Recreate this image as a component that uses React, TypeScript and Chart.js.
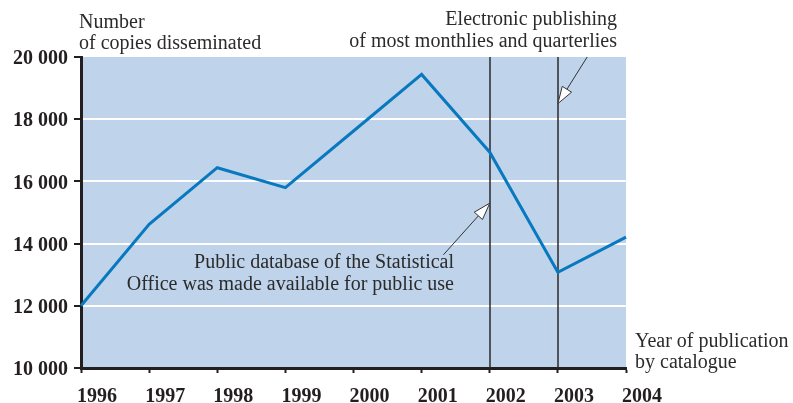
import React, { useEffect, useRef } from "react";
import { Chart, registerables } from "chart.js";

Chart.register(...registerables);

const years = ["1996", "1997", "1998", "1999", "2000", "2001", "2002", "2003", "2004"];
const copies = [12000, 14620, 16440, 15800, 17620, 19440, 16940, 13080, 14210];
const yMin = 10000;
const yMax = 20000;
const yStep = 2000;
const eventYears = ["2002", "2003"];
const yAxisTitle = ["Number", "of copies disseminated"];
const xAxisTitle = ["Year of publication", "by catalogue"];
const note1 = ["Public database of the Statistical", "Office was made available for public use"];
const note2 = ["Electronic publishing", "of most monthlies and quarterlies"];
// arrow anchors in data space: [xIndex, value]
const note1Arrow = { tail: [5.32, 13640], tip: [6, 15300] };
const note2Arrow = { tail: [7.43, 20000], tip: [7, 18500] };

const W = 793;
const H = 403;
const SERIF = '"Liberation Serif", "Times New Roman", serif';
const TEXT = "#2b2b2b";
const INK = "#231f20";

const fmt = (v: number) => String(v).replace(/\B(?=(\d{3})+(?!\d))/g, " ");

function drawArrow(ctx: CanvasRenderingContext2D, x1: number, y1: number, x2: number, y2: number) {
  const dx = x2 - x1;
  const dy = y2 - y1;
  const len = Math.hypot(dx, dy);
  const ux = dx / len;
  const uy = dy / len;
  const headLen = 17;
  const half = 5.5;
  const bx = x2 - ux * headLen;
  const by = y2 - uy * headLen;
  ctx.save();
  ctx.strokeStyle = "#333";
  ctx.lineWidth = 1;
  ctx.beginPath();
  ctx.moveTo(x1, y1);
  ctx.lineTo(bx, by);
  ctx.stroke();
  ctx.beginPath();
  ctx.moveTo(x2, y2);
  ctx.lineTo(bx - uy * half, by + ux * half);
  ctx.lineTo(bx + uy * half, by - ux * half);
  ctx.closePath();
  ctx.fillStyle = "#fff";
  ctx.fill();
  ctx.stroke();
  ctx.restore();
}

const decorPlugin = {
  id: "decor",
  beforeDraw(chart: any) {
    const { ctx, chartArea } = chart;
    ctx.save();
    ctx.fillStyle = "#BFD3EB";
    ctx.fillRect(chartArea.left, chartArea.top, chartArea.right - chartArea.left, chartArea.bottom - chartArea.top);
    ctx.restore();
  },
  beforeDatasetsDraw(chart: any) {
    const { ctx, chartArea, scales } = chart;
    ctx.save();
    ctx.strokeStyle = "#2a2a2a";
    ctx.lineWidth = 1.5;
    eventYears.forEach((yr) => {
      const x = Math.round(scales.x.getPixelForValue(years.indexOf(yr)));
      ctx.beginPath();
      ctx.moveTo(x, chartArea.top);
      ctx.lineTo(x, chartArea.bottom);
      ctx.stroke();
    });
    ctx.restore();
  },
  afterDraw(chart: any) {
    const { ctx, scales } = chart;
    const px = (i: number) => scales.x.getPixelForValue(i);
    const py = (v: number) => scales.y.getPixelForValue(v);
    ctx.save();
    ctx.font = `20px ${SERIF}`;
    ctx.fillStyle = TEXT;
    ctx.textBaseline = "alphabetic";
    ctx.textAlign = "left";
    ctx.fillText(yAxisTitle[0], 79, 28);
    ctx.fillText(yAxisTitle[1], 79, 49);
    ctx.fillText(xAxisTitle[0], 635, 347);
    ctx.fillText(xAxisTitle[1], 635, 368);
    ctx.textAlign = "right";
    ctx.fillText(note2[0], 617, 25);
    ctx.fillText(note2[1], 617, 47);
    ctx.fillText(note1[0], 454, 268);
    ctx.fillText(note1[1], 454, 290);
    ctx.restore();
    drawArrow(ctx, px(note1Arrow.tail[0]), py(note1Arrow.tail[1]), px(note1Arrow.tip[0]), py(note1Arrow.tip[1]));
    drawArrow(ctx, px(note2Arrow.tail[0]), py(note2Arrow.tail[1]), px(note2Arrow.tip[0]), py(note2Arrow.tip[1]));
  },
};

export default function App() {
  const ref = useRef<HTMLCanvasElement | null>(null);
  useEffect(() => {
    if (!ref.current) return;
    const chart = new Chart(ref.current, {
      type: "line",
      data: {
        labels: years,
        datasets: [
          {
            data: copies,
            borderColor: "#0878BF",
            borderWidth: 3,
            pointRadius: 0,
            tension: 0,
            fill: false,
          },
        ],
      },
      options: {
        animation: false,
        responsive: false,
        maintainAspectRatio: false,
        events: [],
        layout: { padding: { top: 57, right: 167, bottom: 0, left: 0 } },
        plugins: { legend: { display: false }, tooltip: { enabled: false }, title: { display: false } },
        scales: {
          x: {
            type: "category",
            offset: false,
            afterFit: (s: any) => {
              s.height = 35;
            },
            grid: { drawOnChartArea: false, drawTicks: true, tickLength: 5, tickColor: INK, tickWidth: 2 },
            border: { display: true, color: INK, width: 3 },
            ticks: {
              color: INK,
              font: { family: SERIF, size: 20, weight: "bold" },
              padding: 12,
              labelOffset: 16,
              maxRotation: 0,
              autoSkip: false,
            },
          },
          y: {
            min: yMin,
            max: yMax,
            afterFit: (s: any) => {
              s.width = 81;
            },
            grid: {
              color: (c: any) => (c.tick && (c.tick.value === yMin || c.tick.value === yMax) ? "rgba(0,0,0,0)" : "#ffffff"),
              lineWidth: 2,
              drawTicks: true,
              tickLength: 7,
              tickColor: INK,
              tickWidth: 2,
            },
            border: { display: true, color: INK, width: 3 },
            ticks: {
              stepSize: yStep,
              color: INK,
              padding: 6,
              labelOffset: 2,
              font: { family: SERIF, size: 20, weight: "bold" },
              callback: (v: any) => fmt(Number(v)),
            },
          },
        },
      },
      plugins: [decorPlugin],
    } as any);
    return () => chart.destroy();
  }, []);
  return (
    <div style={{ position: "fixed", left: 0, top: 0, width: W, height: H, background: "#fff" }}>
      <canvas ref={ref} width={W} height={H} style={{ width: W, height: H, display: "block" }} />
    </div>
  );
}
